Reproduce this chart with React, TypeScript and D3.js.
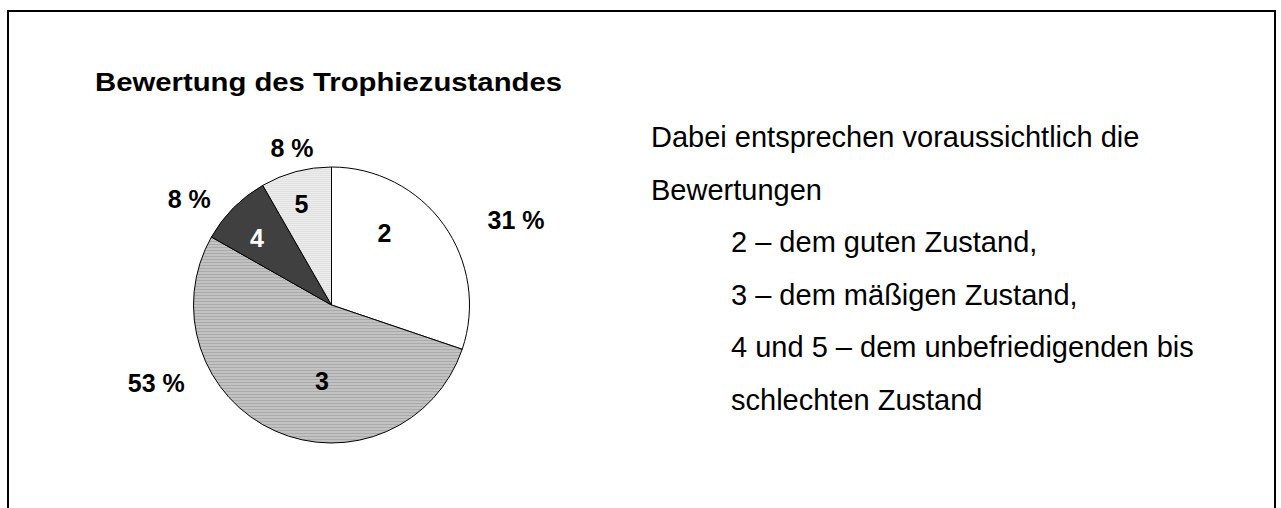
import { useRef, useEffect } from "react";
import * as d3 from "d3";

// ratings and their shares
const ratings = ["2", "3", "4", "5"];
const shares = [30.2, 53.0, 8.5, 8.3];
const shareLabels = ["31 %", "53 %", "8 %", "8 %"];

const title = "Bewertung des Trophiezustandes";
const noteLines = [
  "Dabei entsprechen voraussichtlich die",
  "Bewertungen",
  "2 – dem guten Zustand,",
  "3 – dem mäßigen Zustand,",
  "4 und 5 – dem unbefriedigenden bis",
  "schlechten Zustand",
];
const noteIndent = [false, false, true, true, true, true];

export default function App() {
  const svgRef = useRef<SVGSVGElement>(null);

  useEffect(() => {
    const width = 1281;
    const height = 508;
    const svg = d3.select(svgRef.current).attr("width", width).attr("height", height);
    svg.selectAll("*").remove();

    const font = "'Liberation Sans', Arial, sans-serif";

    // patterns
    const defs = svg.append("defs");
    const stripes = defs
      .append("pattern")
      .attr("id", "stripes")
      .attr("patternUnits", "userSpaceOnUse")
      .attr("width", 4)
      .attr("height", 3);
    stripes.append("rect").attr("width", 4).attr("height", 3).attr("fill", "#c2c2c2");
    stripes.append("rect").attr("y", 2).attr("width", 4).attr("height", 1).attr("fill", "#aaaaaa");

    const dots = defs
      .append("pattern")
      .attr("id", "dots")
      .attr("patternUnits", "userSpaceOnUse")
      .attr("width", 2)
      .attr("height", 2);
    dots.append("rect").attr("width", 2).attr("height", 2).attr("fill", "#ececec");
    dots.append("rect").attr("width", 1).attr("height", 1).attr("fill", "#d8d8d8");

    const fills = ["#ffffff", "url(#stripes)", "#404040", "url(#dots)"];
    const innerTextColor = ["#000", "#000", "#fff", "#000"];

    // frame
    svg
      .append("rect")
      .attr("x", 8)
      .attr("y", 11)
      .attr("width", 1267)
      .attr("height", 540)
      .attr("fill", "none")
      .attr("stroke", "#000")
      .attr("stroke-width", 2);

    // title (the original is a bit wide-set)
    svg
      .append("text")
      .attr("x", 95)
      .attr("y", 91)
      .attr("font-family", font)
      .attr("font-weight", "bold")
      .attr("font-size", 25)
      .attr("textLength", 467)
      .attr("lengthAdjust", "spacingAndGlyphs")
      .text(title);

    // pie
    const cx = 331.5;
    const cy = 305;
    const r = 138;
    const data = ratings.map((k, i) => ({ k, v: shares[i], label: shareLabels[i], i }));
    const pie = d3
      .pie<any>()
      .sort(null)
      .value((d) => d.v);
    const arcs = pie(data);
    const arc = d3.arc<any>().innerRadius(0).outerRadius(r);

    const g = svg.append("g").attr("transform", `translate(${cx},${cy})`);
    g.selectAll("path.slice")
      .data(arcs)
      .enter()
      .append("path")
      .attr("class", "slice")
      .attr("d", arc)
      .attr("fill", (d) => fills[d.data.i])
      .attr("stroke", "#000")
      .attr("stroke-width", 1);

    // inner labels (rating numbers), nudged like the original layout
    const innerArc = d3.arc<any>().innerRadius(0).outerRadius(r * 1.3);
    const innerNudge = [
      [-20, -19],
      [27, -6],
      [-11, -4],
      [-7, -14],
    ];
    g.selectAll("text.inner")
      .data(arcs)
      .enter()
      .append("text")
      .attr("class", "inner")
      .attr("x", (d) => innerArc.centroid(d)[0] + innerNudge[d.data.i][0])
      .attr("y", (d) => innerArc.centroid(d)[1] + innerNudge[d.data.i][1])
      .attr("dy", "0.35em")
      .attr("text-anchor", "middle")
      .attr("font-family", font)
      .attr("font-weight", "bold")
      .attr("font-size", 25)
      .attr("fill", (d) => innerTextColor[d.data.i])
      .text((d) => d.data.k);

    // outer labels (percentages)
    const outerArc = d3.arc<any>().innerRadius(r * 1.28).outerRadius(r * 1.28);
    const outerNudge = [
      [41, 18],
      [-103, -83],
      [-17, 19],
      [6, 14],
    ];
    g.selectAll("text.outer")
      .data(arcs)
      .enter()
      .append("text")
      .attr("class", "outer")
      .attr("x", (d) => outerArc.centroid(d)[0] + outerNudge[d.data.i][0])
      .attr("y", (d) => outerArc.centroid(d)[1] + outerNudge[d.data.i][1])
      .attr("dy", "0.35em")
      .attr("text-anchor", "middle")
      .attr("font-family", font)
      .attr("font-weight", "bold")
      .attr("font-size", 25)
      .text((d) => d.data.label);

    // explanatory note
    const lineY = d3
      .scaleLinear()
      .domain([0, noteLines.length - 1])
      .range([147, 410]);
    svg
      .selectAll("text.note")
      .data(noteLines)
      .enter()
      .append("text")
      .attr("class", "note")
      .attr("x", (_, i) => (noteIndent[i] ? 731 : 651))
      .attr("y", (_, i) => lineY(i))
      .attr("font-family", font)
      .attr("font-size", 29)
      .text((d) => d);
  }, []);

  return (
    <svg
      ref={svgRef}
      style={{ position: "absolute", left: 0, top: 0, display: "block", background: "#fff" }}
    />
  );
}
